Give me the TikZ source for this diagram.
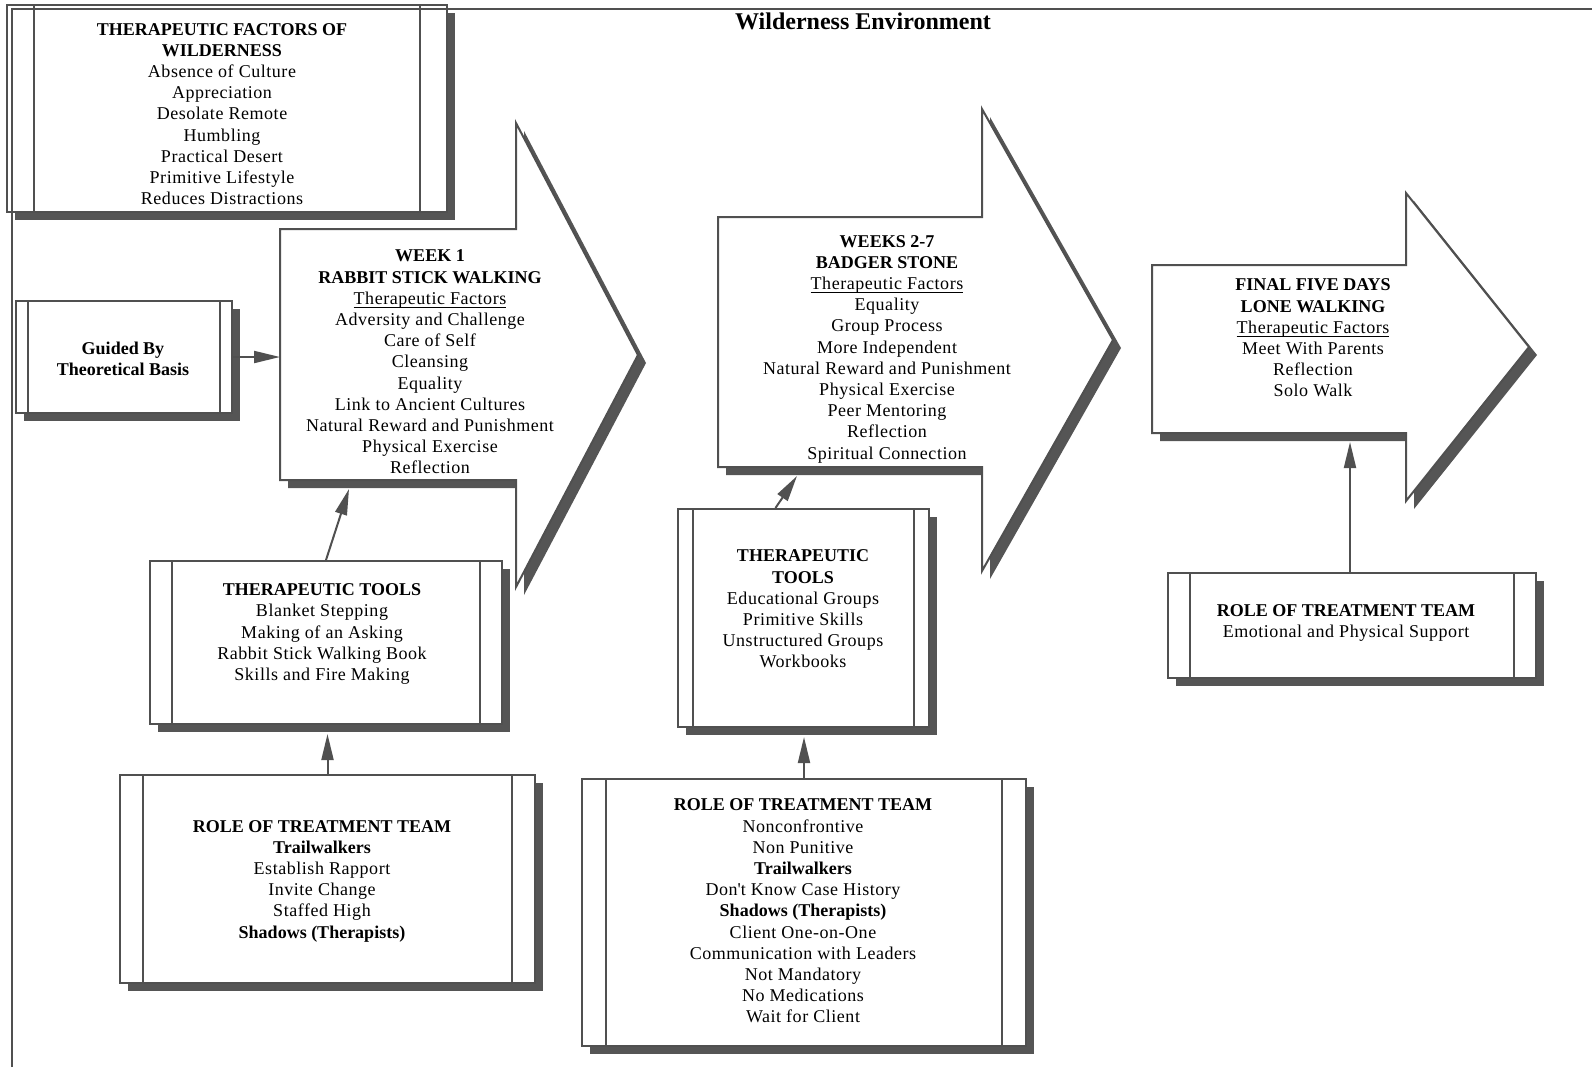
\documentclass[tikz,border=0pt]{standalone}
\usepackage{fontspec}
\setmainfont{Liberation Serif}[LetterSpace=3,BoldFeatures={LetterSpace=0}]
\usetikzlibrary{arrows.meta,shadows}
\definecolor{linegray}{RGB}{80,80,80}
\definecolor{shadegray}{RGB}{85,85,85}
\newcommand{\factorshead}{\underline{\smash{Therapeutic Factors}}}
\tikzset{
  procbox/.style={draw=linegray,line width=1pt,fill=white,
    drop shadow={shadow xshift=4pt,shadow yshift=-4pt,fill=shadegray,opacity=1},
    path picture={\draw[linegray,line width=1pt]
      ([xshift=#1]path picture bounding box.north west)--([xshift=#1]path picture bounding box.south west)
      ([xshift=-#1]path picture bounding box.north east)--([xshift=-#1]path picture bounding box.south east);}},
  blockarrow/.style={draw=linegray,line width=1pt,fill=white,line join=miter,
    drop shadow={shadow xshift=4pt,shadow yshift=-4pt,fill=shadegray,opacity=1}},
  txt/.style={align=center,inner sep=0pt,font=\fontsize{9}{10.6}\selectfont},
  conn/.style={draw=linegray,line width=1pt,-{Triangle[length=13pt,width=6pt]}}
}
\begin{document}
\begin{tikzpicture}[x=0.5pt,y=-0.5pt]
  \useasboundingbox (0,0) rectangle (1592,1067);
  % boxes
  \node[procbox=13.5pt,minimum width=220pt,minimum height=103.5pt] (factors) at (227,108.5) {};
  \node[procbox=6pt,minimum width=108pt,minimum height=56pt] (guided) at (124,357) {};
  \node[procbox=11pt,minimum width=176pt,minimum height=81.5pt] (tools1) at (326,642.5) {};
  \node[procbox=11.5pt,minimum width=207.5pt,minimum height=104pt] (role1) at (327.5,879) {};
  \node[procbox=7.5pt,minimum width=125.5pt,minimum height=109pt] (tools2) at (803.5,618) {};
  \node[procbox=12pt,minimum width=222pt,minimum height=133.5pt] (role2) at (804,912.5) {};
  \node[procbox=11pt,minimum width=184pt,minimum height=52.5pt] (role3) at (1352,625.5) {};
  % stage arrows
  \draw[blockarrow] (280,229) -- (516,229) -- (516,123) -- (638,355) -- (516,587) -- (516,480) -- (280,480) -- cycle;
  \draw[blockarrow] (718,217) -- (982,217) -- (982,109) -- (1113,340) -- (982,571) -- (982,467) -- (718,467) -- cycle;
  \draw[blockarrow] (1152,265) -- (1406,265) -- (1406,193) -- (1529,347) -- (1406,501) -- (1406,433) -- (1152,433) -- cycle;
  \coordinate (w1in) at (280,357);
  \coordinate (w1foot) at (349,489);
  \coordinate (w2foot) at (797,476);
  \coordinate (w3foot) at (1350,442);
  % texts
  \node[txt] (factorstext) at (222,114) {\textbf{THERAPEUTIC FACTORS OF}\\\textbf{WILDERNESS}\\Absence of Culture\\Appreciation\\Desolate Remote\\Humbling\\Practical Desert\\Primitive Lifestyle\\Reduces Distractions};
  \node[txt] (guidedtext) at (123,359) {\textbf{Guided By}\\\textbf{Theoretical Basis}};
  \node[txt] (week1) at (430,362) {\textbf{WEEK 1}\\\textbf{RABBIT STICK WALKING}\\\factorshead\\Adversity and Challenge\\Care of Self\\Cleansing\\Equality\\Link to Ancient Cultures\\Natural Reward and Punishment\\Physical Exercise\\Reflection};
  \node[txt] (week2) at (887,349) {\textbf{WEEKS 2-7}\\\textbf{BADGER STONE}\\\factorshead\\Equality\\Group Process\\More Independent\\Natural Reward and Punishment\\Physical Exercise\\Peer Mentoring\\Reflection\\Spiritual Connection};
  \node[txt] (week3) at (1313,338) {\textbf{FINAL FIVE DAYS}\\\textbf{LONE WALKING}\\\factorshead\\Meet With Parents\\Reflection\\Solo Walk};
  \node[txt] (tools1text) at (322,634) {\textbf{THERAPEUTIC TOOLS}\\Blanket Stepping\\Making of an Asking\\Rabbit Stick Walking Book\\Skills and Fire Making};
  \node[txt] (role1text) at (322,881) {\textbf{ROLE OF TREATMENT TEAM}\\\textbf{Trailwalkers}\\Establish Rapport\\Invite Change\\Staffed High\\\textbf{Shadows (Therapists)}};
  \node[txt] (tools2text) at (803,609) {\textbf{THERAPEUTIC}\\\textbf{TOOLS}\\Educational Groups\\Primitive Skills\\Unstructured Groups\\Workbooks};
  \node[txt] (role2text) at (803,911) {\textbf{ROLE OF TREATMENT TEAM}\\Nonconfrontive\\Non Punitive\\\textbf{Trailwalkers}\\Don\textquotesingle t Know Case History\\\textbf{Shadows (Therapists)}\\Client One-on-One\\Communication with Leaders\\Not Mandatory\\No Medications\\Wait for Client};
  \node[txt] (role3text) at (1346,623) {\textbf{ROLE OF TREATMENT TEAM}\\Emotional and Physical Support};
  % connectors
  \draw[conn] (guided.east) -- (w1in);
  \draw[conn] (tools1.north) -- (w1foot);
  \draw[conn] ([xshift=-14pt]tools2.north) -- (w2foot);
  \draw[conn,shorten >=4.5pt] (role1.north) -- (role1.north |- tools1.south);
  \draw[conn,shorten >=4.5pt] (role2.north) -- (role2.north |- tools2.south);
  \draw[conn] (role3.north -| w3foot) -- (w3foot);
  % environment frame
  \draw[linegray,line width=1pt] (12,1067) -- (12,9) -- (1592,9);
  \node[font=\bfseries\fontsize{12}{14}\selectfont] (title) at (863,21) {Wilderness Environment};
\end{tikzpicture}
\end{document}
